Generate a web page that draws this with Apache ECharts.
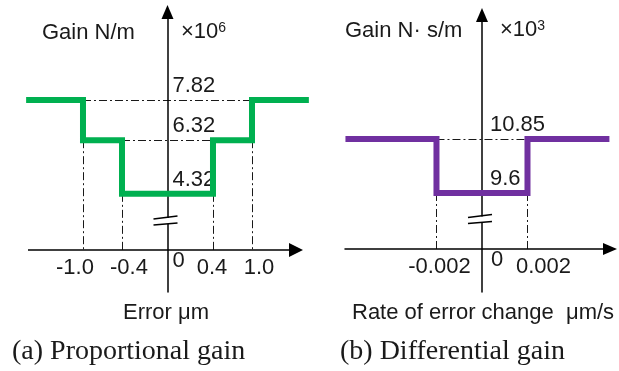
<!DOCTYPE html>
<html><head><meta charset="utf-8">
<script src="https://cdn.jsdelivr.net/npm/echarts@6.0.0/dist/echarts.min.js"></script>
<style>html,body{margin:0;padding:0;background:#fff}#c{width:619px;height:371px}</style>
</head><body><div id="c"></div>
<script>
// ---------- data: (a) proportional gain ----------
const errorSteps = [-1.0, -0.4, 0.4, 1.0];               // µm
const propGainLevels = [7.82, 6.32, 4.32, 6.32, 7.82];   // ×10^6 N/m
const errorEnds = [-1.5, 1.5];
const propGainTicks = [4.32, 6.32, 7.82];
const errorTicks = [-1.0, -0.4, 0.4, 1.0];

// ---------- data: (b) differential gain ----------
const rateSteps = [-0.002, 0.002];                        // µm/s
const diffGainLevels = [10.85, 9.6, 10.85];               // ×10^3 N·s/m
const rateEnds = [-0.006, 0.0056];
const diffGainTicks = [9.6, 10.85];
const rateTicks = [-0.002, 0.002];

// ---------- layout / style ----------
const SANS = 'Liberation Sans, Arial, sans-serif';
const SERIF = 'Liberation Serif, Times New Roman, serif';
const TXT = '#1a1a1a';
const A = {yMin: 0.66, yMax: 11.10, cross: 2.226, brk: 3.308, gridH: 280, gridL: 28, gridW: 282,
           xMin: -1.4835, xMax: 1.51, xArrow: 1.387};
const B = {yMin: 7.308, yMax: 13.72, cross: 8.304, brk: 8.986, gridH: 277, gridL: 345, gridW: 265,
           xMin: -0.00602, xMax: 0.005626};
const shiftA = {'-1.0': -8, '-0.4': 7, '0.4': -1, '1.0': 7};
const shiftB = {'-0.002': 3, '0.002': 16};

function stepPoints(ends, steps, levels) {
  const pts = [[ends[0], levels[0]]];
  steps.forEach((s, i) => { pts.push([s, levels[i]]); pts.push([s, levels[i + 1]]); });
  pts.push([ends[1], levels[levels.length - 1]]);
  return pts;
}
function guideLines(steps, levels, cross) {
  const out = [];
  const n = steps.length;
  for (let k = 0; k < n / 2; k++) {
    out.push({coords: [[steps[k], levels[k]], [steps[n - 1 - k], levels[k]]]});
  }
  steps.forEach((s, i) => {
    out.push({coords: [[s, Math.min(levels[i], levels[i + 1])], [s, cross]]});
  });
  return out;
}
function shiftRich(map) {
  const rich = {};
  Object.keys(map).forEach((k, i) => {
    const s = map[k];
    rich['s' + i] = {padding: s >= 0 ? [0, 0, 0, 2 * s] : [0, -2 * s, 0, 0],
                     fontSize: 22, fontFamily: SANS, color: TXT};
  });
  return rich;
}
function shiftFmt(map, digits) {
  const keys = Object.keys(map);
  return v => { const t = v.toFixed(digits); const i = keys.indexOf(t);
                return i >= 0 ? '{s' + i + '|' + t + '}' : t; };
}
function breakMark(params, api) {
  const p = api.coord([api.value(0), api.value(1)]);
  const x = p[0], y = p[1];
  return {type: 'group', children: [
    {type: 'rect', shape: {x: x - 2, y: y - 3, width: 4, height: 6}, style: {fill: '#fff'}},
    {type: 'line', shape: {x1: x - 14, y1: y - 2, x2: x + 10, y2: y - 5}, style: {stroke: '#000', lineWidth: 1.5}},
    {type: 'line', shape: {x1: x - 14, y1: y + 4, x2: x + 10, y2: y + 2}, style: {stroke: '#000', lineWidth: 1.5}}
  ]};
}
const axisLine = {onZero: false, symbol: ['none', 'triangle'], symbolSize: [12, 14],
                  lineStyle: {color: '#000', width: 1.5}};
const dash = {color: '#000', width: 1, type: [8, 3, 2, 3], opacity: 0.9};

function xAxisOf(gi, P, ticks, map, digits, extra) {
  return Object.assign({
    type: 'value', gridIndex: gi, min: P.xMin, max: P.xMax,
    offset: -(P.cross - P.yMin) * P.gridH / (P.yMax - P.yMin),
    axisLine: axisLine, axisTick: {show: false}, splitLine: {show: false},
    axisLabel: {customValues: ticks, formatter: shiftFmt(map, digits), rich: shiftRich(map),
                margin: 7, fontSize: 22, fontFamily: SANS, color: TXT}
  }, extra || {});
}
function yAxisOf(gi, P, ticks, fmt, margin) {
  return {
    type: 'value', gridIndex: gi, min: P.yMin, max: P.yMax, position: 'left', offset: 0,
    axisLine: axisLine,
    axisTick: {show: false}, splitLine: {show: false},
    axisLabel: {inside: true, customValues: ticks, formatter: fmt, margin: margin,
                verticalAlign: 'bottom', padding: [0, 0, 3, 0],
                fontSize: 22, fontFamily: SANS, color: TXT}
  };
}
function title(text, left, top, size, font, rich) {
  return {text: text, left: left, top: top, padding: 0, itemGap: 0,
          textStyle: {fontSize: size, fontFamily: font, fontWeight: 'normal', color: TXT, rich: rich}};
}
function originLabel(xi, P, dx) {
  return {type: 'scatter', xAxisIndex: xi, yAxisIndex: xi, symbolSize: 0, data: [[0, P.cross]],
          itemStyle: {opacity: 1}, silent: true,
          label: {show: true, formatter: '0', position: [dx, 0], align: 'left', verticalAlign: 'top',
                  opacity: 1, fontSize: 22, fontFamily: SANS, color: TXT}};
}
const supRich = {a: {fontSize: 22, fontFamily: SANS, color: TXT},
                 s: {fontSize: 14, fontFamily: SANS, color: TXT, verticalAlign: 'top', padding: [0, 0, 6, 0]}};

const chart = echarts.init(document.getElementById('c'), null, {renderer: 'canvas'});
chart.setOption({
  animation: false,
  backgroundColor: '#fff',
  title: [
    title('Gain N/m', 42, 22, 22, SANS),
    title('{a|×10}{s|6}', 181, 21, 22, SANS, supRich),
    title('Error μm', 123, 302, 22, SANS),
    title('(a) Proportional gain', 12, 338, 28, SERIF),
    title('Gain N· s/m', 345, 20, 22, SANS),
    title('{a|×10}{s|3}', 500, 19, 22, SANS, supRich),
    title('Rate of error change  μm/s', 352, 302, 22, SANS),
    title('(b) Differential gain', 340, 338, 28, SERIF)
  ],
  grid: [
    {left: A.gridL, width: A.gridW, top: 12, height: A.gridH},
    {left: B.gridL, width: B.gridW, top: 15, height: B.gridH}
  ],
  xAxis: [
    xAxisOf(0, A, errorTicks, shiftA, 1, {
      axisLine: {show: false, onZero: false},
      breaks: [{start: -0.9, end: -0.5, gap: 0.143}, {start: 0.5, end: 0.9, gap: 0.143}],
      breakArea: {show: false, itemStyle: {opacity: 0, borderWidth: 0}}
    }),
    xAxisOf(1, B, rateTicks, shiftB, 3)
  ],
  yAxis: [
    yAxisOf(0, A, propGainTicks, v => v.toFixed(2), 5),
    yAxisOf(1, B, diffGainTicks, v => String(v), 8)
  ],
  series: [
    {type: 'lines', coordinateSystem: 'cartesian2d', xAxisIndex: 0, yAxisIndex: 0, z: 1,
     data: guideLines(errorSteps, propGainLevels, A.cross), lineStyle: dash, silent: true},
    // x-axis line of panel (a), drawn as one continuous arrowed line across the axis breaks
    {type: 'lines', coordinateSystem: 'cartesian2d', xAxisIndex: 0, yAxisIndex: 0, z: 1, silent: true,
     symbol: ['none', 'triangle'], symbolSize: [12, 14],
     data: [{coords: [[A.xMin, A.cross], [A.xArrow, A.cross]]}],
     lineStyle: {color: '#000', width: 1.5, opacity: 1}},
    {type: 'line', xAxisIndex: 0, yAxisIndex: 0, z: 3, clip: false, showSymbol: false,
     data: stepPoints(errorEnds, errorSteps, propGainLevels),
     lineStyle: {color: '#00b050', width: 6, cap: 'butt', join: 'miter'}},
    {type: 'custom', xAxisIndex: 0, yAxisIndex: 0, z: 4, clip: false, renderItem: breakMark, data: [[0, A.brk]]},
    originLabel(0, A, 5),

    {type: 'lines', coordinateSystem: 'cartesian2d', xAxisIndex: 1, yAxisIndex: 1, z: 1,
     data: guideLines(rateSteps, diffGainLevels, B.cross), lineStyle: dash, silent: true},
    {type: 'line', xAxisIndex: 1, yAxisIndex: 1, z: 3, clip: false, showSymbol: false,
     data: stepPoints(rateEnds, rateSteps, diffGainLevels),
     lineStyle: {color: '#7030a0', width: 6, cap: 'butt', join: 'miter'}},
    {type: 'custom', xAxisIndex: 1, yAxisIndex: 1, z: 4, clip: false, renderItem: breakMark, data: [[0, B.brk]]},
    originLabel(1, B, 9)
  ]
});
// move each y axis (with its labels) to x = 0 of its x axis
const offA = chart.convertToPixel({xAxisIndex: 0}, 0) - A.gridL;
const offB = chart.convertToPixel({xAxisIndex: 1}, 0) - B.gridL;
chart.setOption({yAxis: [{offset: -offA}, {offset: -offB}]});
</script>
</body></html>
